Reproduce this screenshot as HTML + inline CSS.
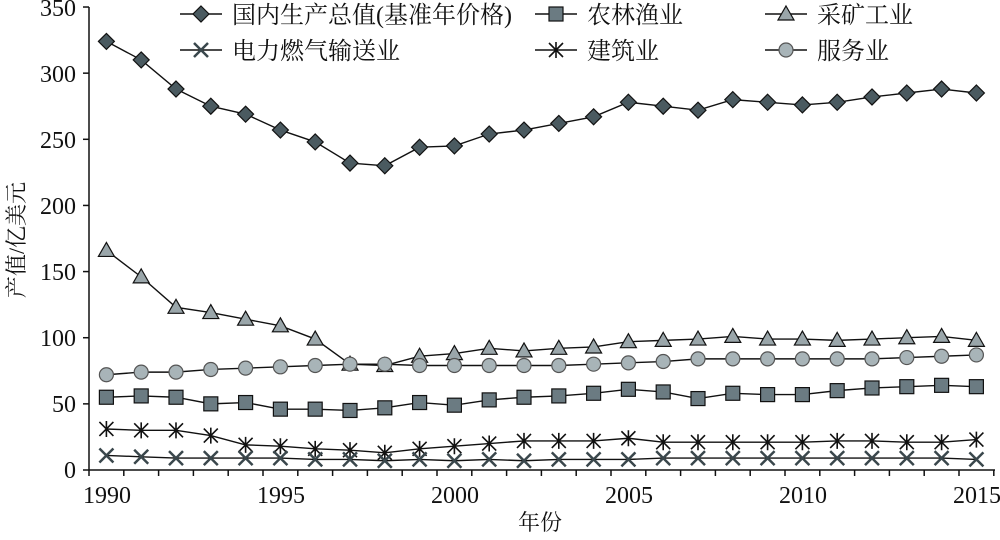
<!DOCTYPE html>
<html><head><meta charset="utf-8"><style>
html,body{margin:0;padding:0;background:#fff;}
svg text{font-family:"Liberation Serif","Noto Serif CJK SC",serif;fill:#111;}
</style></head><body>
<svg id="s" width="1000" height="535" xmlns="http://www.w3.org/2000/svg">
<line x1="89" y1="7" x2="89" y2="470" stroke="#111" stroke-width="1.5"/>
<line x1="89" y1="470" x2="995" y2="470" stroke="#111" stroke-width="1.5"/>
<g font-size="24" text-anchor="end">
<text x="76" y="478">0</text><text x="76" y="412">50</text><text x="76" y="346">100</text>
<text x="76" y="280">150</text><text x="76" y="214">200</text><text x="76" y="148">250</text>
<text x="76" y="82">300</text><text x="76" y="16">350</text>
</g>
<g font-size="24" text-anchor="middle">
<text x="107" y="503">1990</text><text x="281" y="503">1995</text><text x="455" y="503">2000</text>
<text x="629" y="503">2005</text><text x="803" y="503">2010</text><text x="977" y="503">2015</text>
<text x="540" y="530" font-size="22">年份</text>
</g>
<text font-size="22" text-anchor="middle" transform="translate(24,240) rotate(-90)">产值/亿美元</text>
<g id="g"></g>
</svg>
<script>
var NS="http://www.w3.org/2000/svg",g=document.getElementById("g");
function el(t,a){var e=document.createElementNS(NS,t);for(var k in a)e.setAttribute(k,a[k]);g.appendChild(e);return e;}
for(var i=0;i<=7;i++){var y=470-i*66.14;el("line",{x1:83,y1:y,x2:89,y2:y,stroke:"#111","stroke-width":1.5});}
for(var i=0;i<=26;i++){var x=89+i*34.8;el("line",{x1:x,y1:470,x2:x,y2:476,stroke:"#111","stroke-width":1.5});}
function X(i){return 106.4+i*34.8;}function Y(v){return 470-v*1.3228;}
var D={
gdp:[324,310,288,275,269,257,248,232,230,244,245,254,257,262,267,278,275,272,280,278,276,278,282,285,288,285],
min:[166,146,123,119,114,109,99,80,79,86,88,92,90,92,93,97,98,99,101,99,99,98,99,100,101,98],
svc:[72,74,74,76,77,78,79,80,80,79,79,79,79,79,80,81,82,84,84,84,84,84,84,85,86,87],
agr:[55,56,55,50,51,46,46,45,47,51,49,53,55,56,58,61,59,54,58,57,57,60,62,63,64,63],
con:[31,30,30,26,19,18,16,15,13,16,18,20,22,22,22,24,21,21,21,21,21,22,22,21,21,23],
ele:[11,10,9,9,9,9,8,8,7,8,7,8,7,8,8,8,9,9,9,9,9,9,9,9,9,8]};
function mk(t,x,y){
 if(t=="gdp")el("polygon",{points:(x)+","+(y-8)+" "+(x+8)+","+y+" "+x+","+(y+8)+" "+(x-8)+","+y,fill:"#4a5a60",stroke:"#111","stroke-width":1.2});
 else if(t=="agr")el("rect",{x:x-7,y:y-7,width:14,height:14,fill:"#6b7b82",stroke:"#111","stroke-width":1.2});
 else if(t=="min")el("polygon",{points:x+","+(y-8)+" "+(x+8)+","+(y+6)+" "+(x-8)+","+(y+6),fill:"#9aa6aa",stroke:"#111","stroke-width":1.2});
 else if(t=="svc")el("circle",{cx:x,cy:y,r:7,fill:"#a8b4b8",stroke:"#555","stroke-width":1.2});
 else if(t=="ele"){el("path",{d:"M"+(x-7)+" "+(y-7)+"L"+(x+7)+" "+(y+7)+"M"+(x+7)+" "+(y-7)+"L"+(x-7)+" "+(y+7),stroke:"#3a474c","stroke-width":2.5});}
 else if(t=="con"){el("path",{d:"M"+(x-7)+" "+(y-7)+"L"+(x+7)+" "+(y+7)+"M"+(x+7)+" "+(y-7)+"L"+(x-7)+" "+(y+7)+"M"+x+" "+(y-8)+"L"+x+" "+(y+8),stroke:"#111","stroke-width":1.6});}
}
for(var k in D){var p=D[k].map(function(v,i){return X(i)+","+Y(v);}).join(" ");
 el("polyline",{points:p,fill:"none",stroke:"#111","stroke-width":1.4});
 D[k].forEach(function(v,i){mk(k,X(i),Y(v));});}
var L=[["gdp",180,14,"国内生产总值(基准年价格)"],["agr",535,14,"农林渔业"],["min",765,14,"采矿工业"],
["ele",180,50,"电力燃气输送业"],["con",535,50,"建筑业"],["svc",765,50,"服务业"]];
L.forEach(function(l){el("line",{x1:l[1],y1:l[2],x2:l[1]+42,y2:l[2],stroke:"#111","stroke-width":1.4});mk(l[0],l[1]+21,l[2]);
 var t=el("text",{x:l[1]+52,y:l[2]+9,"font-size":"24"});t.textContent=l[3];});
</script>
</body></html>
